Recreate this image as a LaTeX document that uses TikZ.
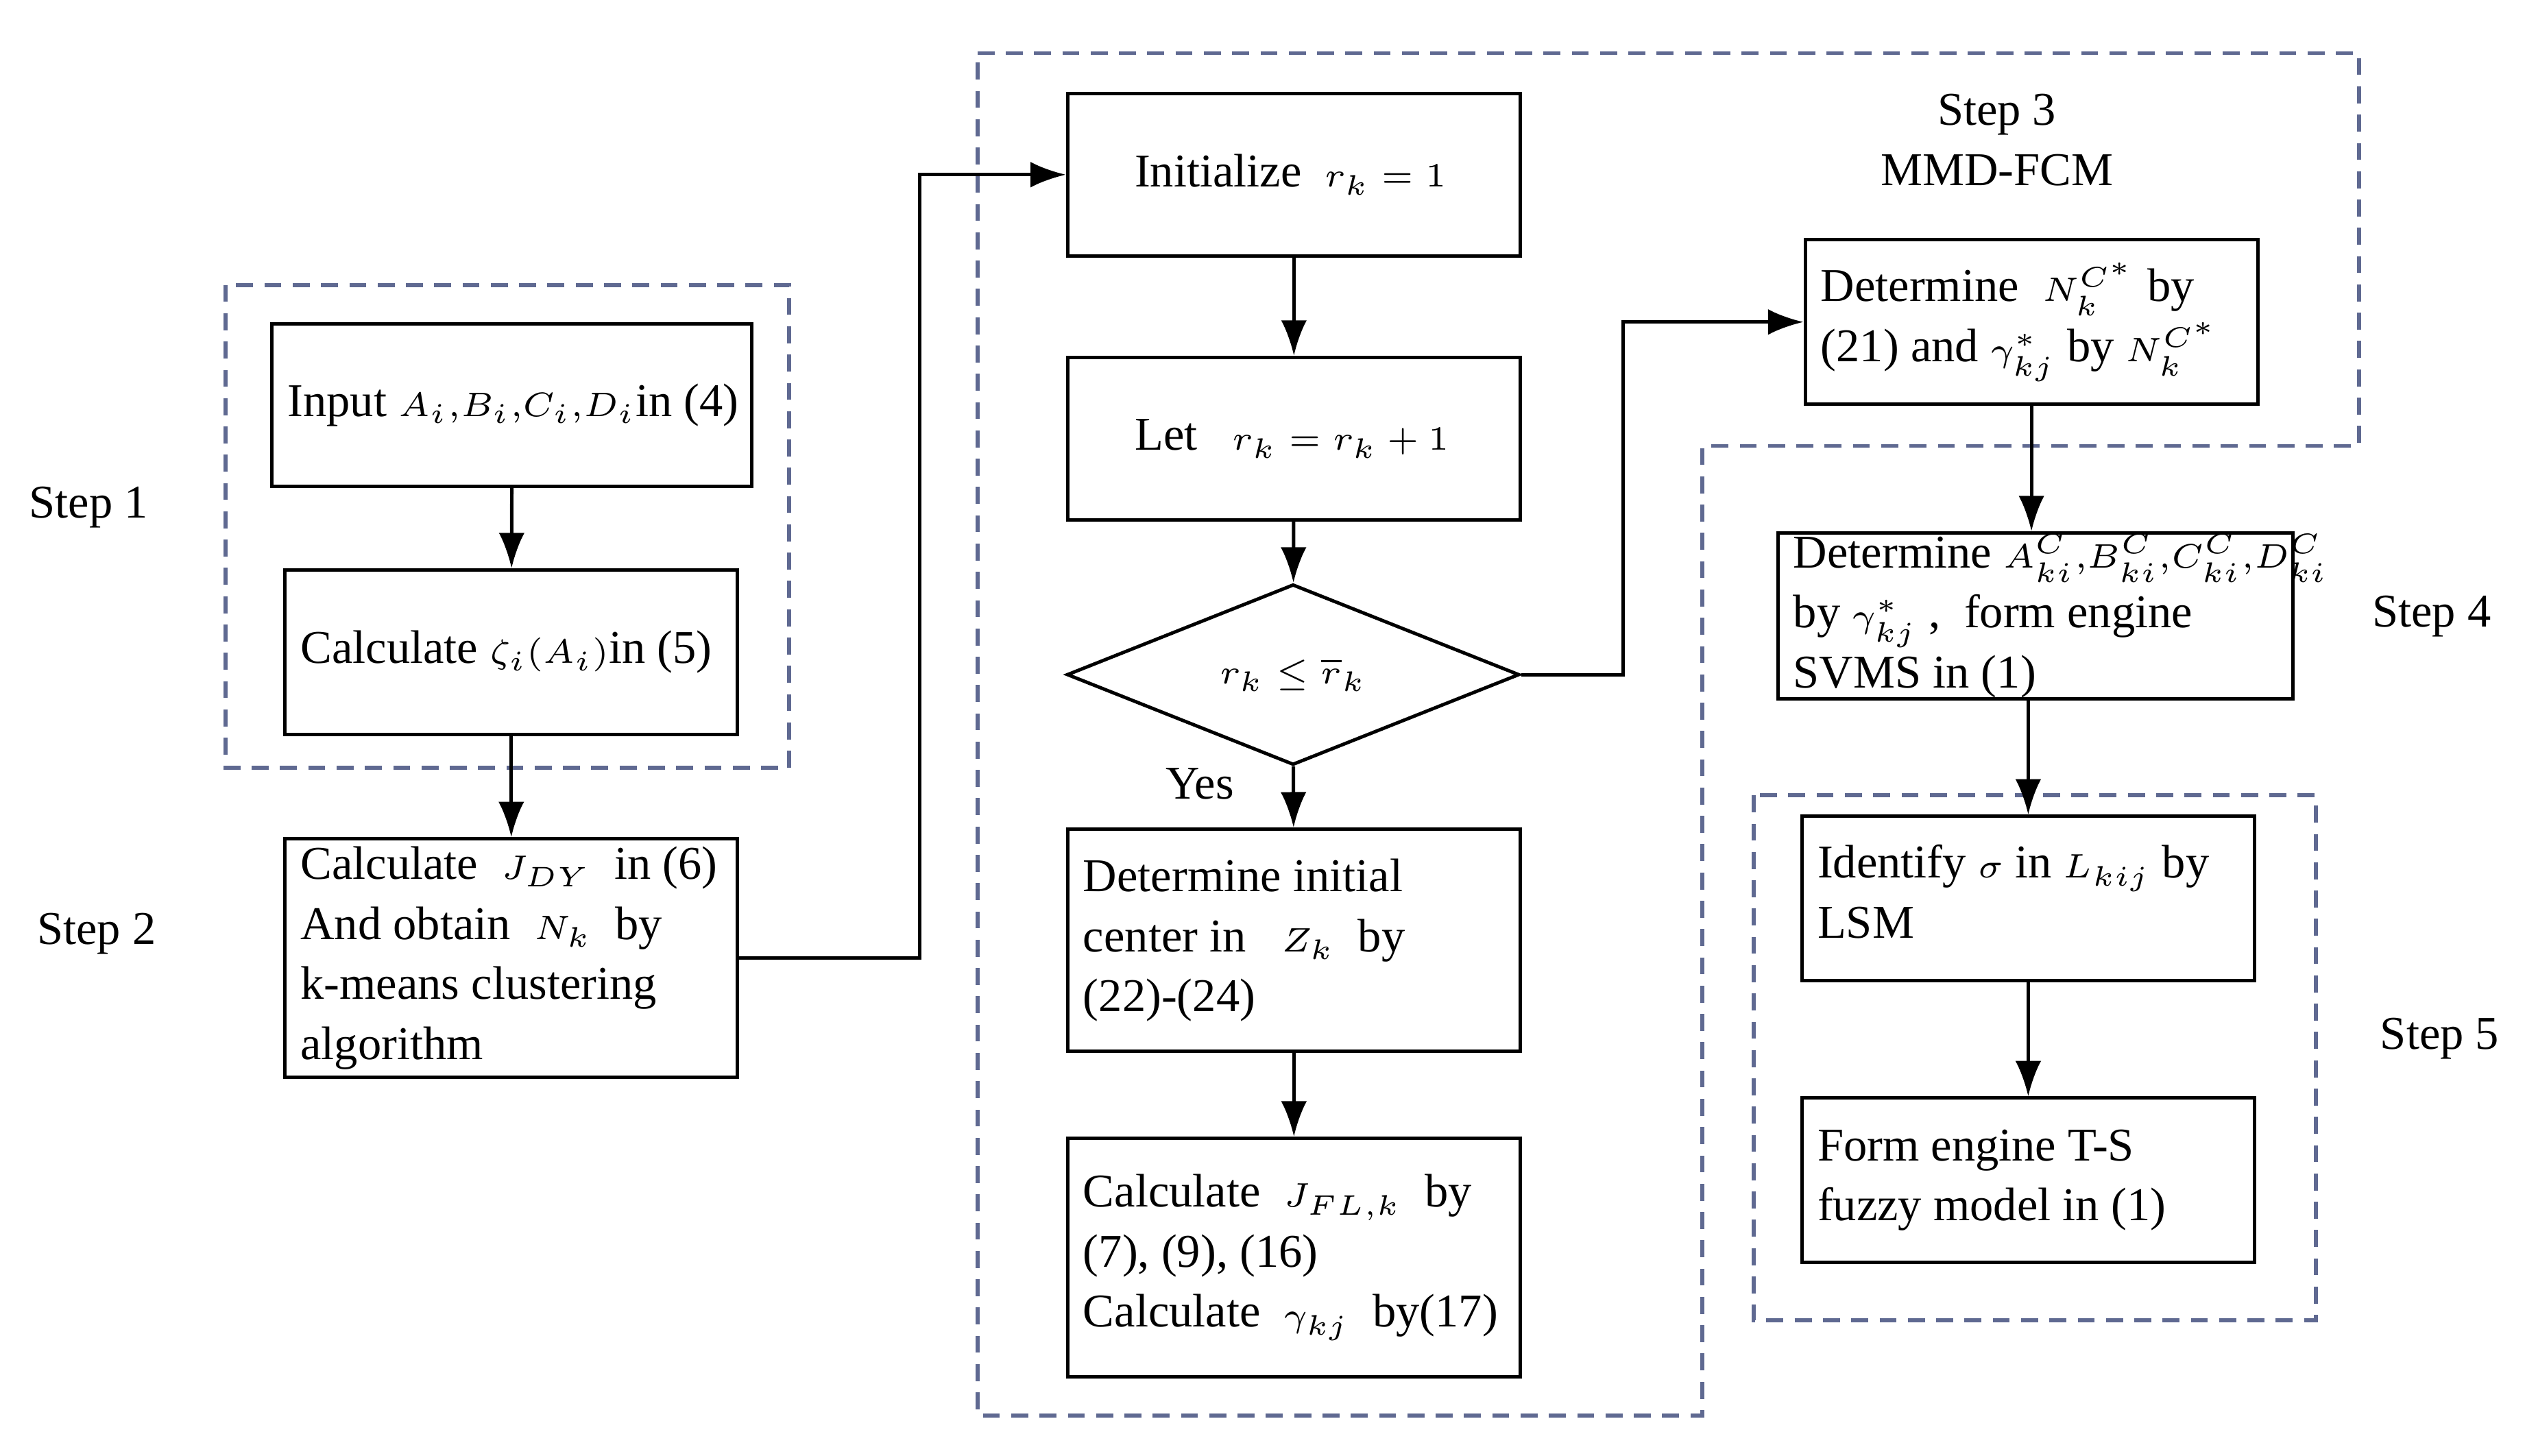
\documentclass[tikz,border=0pt]{standalone}
\usepackage{fontspec}
\setmainfont{Liberation Serif}
\usetikzlibrary{arrows.meta,shapes.geometric}
\definecolor{dash}{RGB}{95,105,145}
\newcommand{\mm}[1]{{\fontsize{6.4}{8}\selectfont$#1$}}
\begin{document}
\begin{tikzpicture}[
  font=\fontsize{8.3}{10.6}\selectfont,
  box/.style={draw,line width=0.6pt},
  txt/.style={align=left,anchor=west,inner sep=0pt},
  arr/.style={line width=0.6pt,-{Latex[length=0.22cm,width=0.16cm]}},
  dsh/.style={draw=dash,line width=0.7pt,dash pattern=on 3pt off 2pt}]
\useasboundingbox (0,0) rectangle (15.68,9.04);
\draw[dsh] (1.40,7.27) rectangle (4.90,4.27);
\draw[dsh] (6.07,8.71) -- (14.65,8.71) -- (14.65,6.27) -- (10.57,6.27) -- (10.57,0.25) -- (6.07,0.25) -- cycle;
\draw[dsh] (10.89,4.10) rectangle (14.38,0.84);

\node[box,minimum width=2.98cm,minimum height=1.01cm] (A) at (3.18,6.525) {};
\node[box,minimum width=2.81cm,minimum height=1.02cm] (B) at (3.175,4.99) {};
\node[box,minimum width=2.81cm,minimum height=1.48cm] (C) at (3.175,3.09) {};
\node[box,minimum width=2.81cm,minimum height=1.01cm] (I) at (8.035,7.955) {};
\node[box,minimum width=2.81cm,minimum height=1.01cm] (L) at (8.035,6.315) {};
\node[draw,line width=0.6pt,diamond,minimum width=2.81cm,minimum height=1.0cm,inner sep=0pt] (D) at (8.03,4.85) {\mm{r_k\le\overline{r}_k}};
\node[box,minimum width=2.81cm,minimum height=1.38cm] (E) at (8.035,3.2) {};
\node[box,minimum width=2.81cm,minimum height=1.48cm] (F) at (8.035,1.23) {};
\node[box,minimum width=2.81cm,minimum height=1.02cm] (N) at (12.615,7.04) {};
\node[box,minimum width=3.2cm,minimum height=1.03cm] (S) at (12.64,5.215) {};
\node[box,minimum width=2.81cm,minimum height=1.02cm] (Id) at (12.595,3.46) {};
\node[box,minimum width=2.81cm,minimum height=1.02cm] (Fm) at (12.595,1.71) {};

\node[txt] (tA) at ([xshift=0.1cm]A.west) {Input \mm{A_i{,}B_i{,}C_i{,}D_i}in (4)};
\node[txt] (tB) at ([xshift=0.1cm]B.west) {Calculate \mm{\zeta_i(A_i)}in (5)};
\node[txt] (tC) at ([xshift=0.1cm]C.west) {Calculate \ \mm{J_{DY}} \ in (6)\\And obtain \ \mm{N_k} \ by\\k-means clustering\\algorithm};
\node[txt] (tI) at ([xshift=0.42cm]I.west) {Initialize \ \mm{r_k=1}};
\node[txt] (tL) at ([xshift=0.42cm]L.west) {Let \ \ \mm{r_k=r_k+1}};
\node[txt] (tE) at ([xshift=0.1cm]E.west) {Determine initial\\center in \ \ \mm{Z_k} \ by\\(22)-(24)};
\node[txt] (tF) at ([xshift=0.1cm]F.west) {Calculate \ \mm{J_{FL,k}} \ by\\(7), (9), (16)\\Calculate \ \mm{\gamma_{kj}} \ by(17)};
\node[txt] (tN) at ([xshift=0.1cm]N.west) {Determine \ \mm{N_k^{C^*}} by\\(21) and \mm{\gamma_{kj}^*} by \mm{N_k^{C^*}}};
\node[txt] (tS) at ([xshift=0.1cm]S.west) {Determine \mm{A_{ki}^C{,}B_{ki}^C{,}C_{ki}^C{,}D_{ki}^C}\\by \mm{\gamma_{kj}^*} , \ form engine\\SVMS in (1)};
\node[txt,anchor=north west] (tId) at ([xshift=0.1cm,yshift=-0.18cm]Id.north west) {Identify \mm{\sigma} in \mm{L_{kij}} by\\LSM};
\node[txt] (tFm) at ([xshift=0.1cm]Fm.west) {Form engine T-S\\fuzzy model in (1)};

\node (s1) at (0.55,5.89) {Step 1};
\node (s2) at (0.60,3.24) {Step 2};
\node (yes) at (7.45,4.17) {Yes};
\node[align=center] (s3) at (12.40,8.17) {Step 3\\MMD-FCM};
\node (s4) at (15.10,5.21) {Step 4};
\node (s5) at (15.15,2.59) {Step 5};

\coordinate (j1) at (5.71,5);
\coordinate (j2) at (10.08,6);
\draw[arr] (A) -- (B);
\draw[arr] (B) -- (C);
\draw[arr] (C.east) -| (j1) |- (I.west);
\draw[arr] (I) -- (L);
\draw[arr] (L) -- (D);
\draw[arr] (D) -- (E);
\draw[arr] (E) -- (F);
\draw[arr] (D.east) -| (j2) |- (N.west);
\draw[arr] (N.south) -- (N.south |- S.north);
\draw[arr] (S.south -| Id.north) -- (Id.north);
\draw[arr] (Id) -- (Fm);
\end{tikzpicture}
\end{document}
